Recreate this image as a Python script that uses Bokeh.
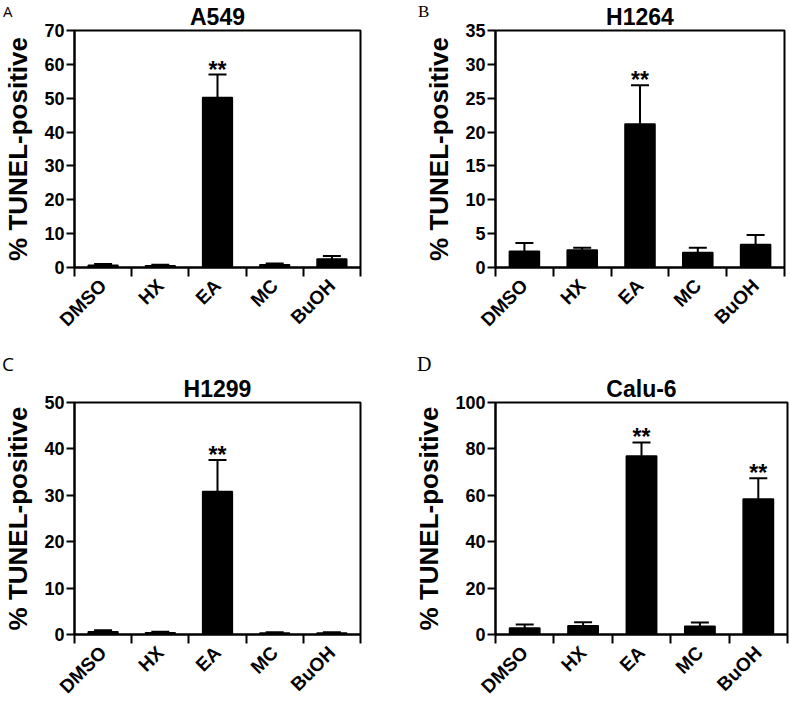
import numpy as np
from bokeh.plotting import figure
from bokeh.models import ColumnDataSource, FixedTicker, Whisker, TeeHead, Range1d, Div
from bokeh.layouts import row, column
from bokeh.embed import file_html
from bokeh.resources import INLINE
from bokeh.core.properties import value

categories = ["DMSO", "HX", "EA", "MC", "BuOH"]

a549_mean = [0.7, 0.5, 50.2, 0.8, 2.5]
a549_err = [0.3, 0.3, 6.8, 0.4, 0.9]
a549_stars = ["", "", "**", "", ""]
a549_ticks = [0, 10, 20, 30, 40, 50, 60, 70]

h1264_mean = [2.4, 2.6, 21.2, 2.2, 3.4]
h1264_err = [1.2, 0.3, 5.7, 0.7, 1.4]
h1264_stars = ["", "", "**", "", ""]
h1264_ticks = [0, 5, 10, 15, 20, 25, 30, 35]

h1299_mean = [0.6, 0.4, 30.8, 0.3, 0.3]
h1299_err = [0.3, 0.2, 6.8, 0.2, 0.2]
h1299_stars = ["", "", "**", "", ""]
h1299_ticks = [0, 10, 20, 30, 40, 50]

calu6_mean = [2.8, 3.8, 76.9, 3.6, 58.4]
calu6_err = [1.5, 1.5, 5.9, 1.6, 9.0]
calu6_stars = ["", "", "**", "", "**"]
calu6_ticks = [0, 20, 40, 60, 80, 100]

panel_letters = ["A", "B", "C", "D"]

FONT = "Liberation Sans"


def make_panel(title, mean, err, stars, yticks, width, height,
               left, right, top, bottom):
    n = len(categories)
    xs = [i + 0.5 for i in range(n)]
    upper = [m + e for m, e in zip(mean, err)]
    src = ColumnDataSource(dict(x=xs, mean=mean, upper=upper, stars=stars))
    p = figure(width=width, height=height, x_range=Range1d(0, n),
               y_range=Range1d(0, yticks[-1]), output_backend="svg",
               toolbar_location=None, min_border_left=left,
               min_border_right=right, min_border_top=top,
               min_border_bottom=bottom, title=title)
    p.background_fill_color = "white"
    p.border_fill_color = None
    p.grid.visible = False
    p.outline_line_color = "black"
    p.outline_line_width = 2

    p.title.align = "center"
    p.title.text_font = FONT
    p.title.text_font_style = "bold"
    p.title.text_font_size = "23px"
    p.title.text_color = "black"
    p.title.standoff = 2

    p.vbar(x="x", top="mean", width=0.52, source=src,
           fill_color="black", line_color="black", line_width=1.5)
    wh = Whisker(source=src, base="x", lower="mean", upper="upper",
                 dimension="height", line_color="black", line_width=2,
                 upper_head=TeeHead(size=18, line_color="black", line_width=2),
                 lower_head=None)
    p.add_layout(wh)
    p.text(x="x", y="upper", text="stars", source=src, text_align="center",
           text_baseline="alphabetic", text_font=value(FONT), y_offset=-5,
           text_font_style="bold", text_font_size="23px", text_color="black")

    xa = p.xaxis[0]
    xa.ticker = FixedTicker(ticks=xs, minor_ticks=list(range(n + 1)))
    xa.major_label_overrides = {x: c for x, c in zip(xs, categories)}
    xa.major_tick_out = 0
    xa.major_tick_in = 0
    xa.minor_tick_out = 9
    xa.minor_tick_in = 0
    xa.minor_tick_line_width = 2
    xa.minor_tick_line_color = "black"
    xa.axis_line_width = 2
    xa.axis_line_color = "black"
    xa.major_label_orientation = np.pi / 4
    xa.major_label_text_font = FONT
    xa.major_label_text_font_style = "bold"
    xa.major_label_text_font_size = "19px"
    xa.major_label_text_color = "black"
    xa.major_label_standoff = 6

    ya = p.yaxis[0]
    ya.ticker = FixedTicker(ticks=yticks)
    ya.minor_tick_out = 0
    ya.minor_tick_in = 0
    ya.major_tick_out = 8
    ya.major_tick_in = 0
    ya.major_tick_line_width = 2
    ya.major_tick_line_color = "black"
    ya.axis_line_width = 2
    ya.axis_line_color = "black"
    ya.major_label_text_font = FONT
    ya.major_label_text_font_style = "bold"
    ya.major_label_text_font_size = "18px"
    ya.major_label_text_color = "black"
    ya.major_label_standoff = 2
    ya.axis_label = "% TUNEL-positive"
    ya.axis_label_text_font = FONT
    ya.axis_label_text_font_style = "bold"
    ya.axis_label_text_font_size = "26px"
    ya.axis_label_text_color = "black"
    ya.axis_label_standoff = 8
    return p


def letter_div(letter, font, size, top, left, width):
    html = ('<span style="font-family:\'%s\';font-size:%dpx;'
            'line-height:%dpx;color:black;white-space:nowrap;">%s</span>'
            % (font, size, size, letter))
    return Div(text=html, width=width, height=size,
               margin=(top, 0, -(top + size), left))


pA = make_panel("A549", a549_mean, a549_err, a549_stars, a549_ticks,
                395, 340, 69, 35, 28, 66)
pB = make_panel("H1264", h1264_mean, h1264_err, h1264_stars, h1264_ticks,
                395, 340, 100, 6, 28, 66)
pC = make_panel("H1299", h1299_mean, h1299_err, h1299_stars, h1299_ticks,
                395, 367, 69, 35, 62, 60)
pD = make_panel("Calu-6", calu6_mean, calu6_err, calu6_stars, calu6_ticks,
                395, 367, 100, 3, 62, 60)

top_letters = row(letter_div(panel_letters[0], "Open Sans", 15, 4, 3, 16),
                  letter_div(panel_letters[1], "Liberation Serif", 17, 3, 399, 16))
bottom_letters = row(letter_div(panel_letters[2], "Open Sans", 19, 15, 2, 17),
                     letter_div(panel_letters[3], "Liberation Serif", 20, 14, 398, 18))

layout = column(top_letters, row(pA, pB), bottom_letters, row(pC, pD))
open("out.html", "w").write(file_html(layout, INLINE))
